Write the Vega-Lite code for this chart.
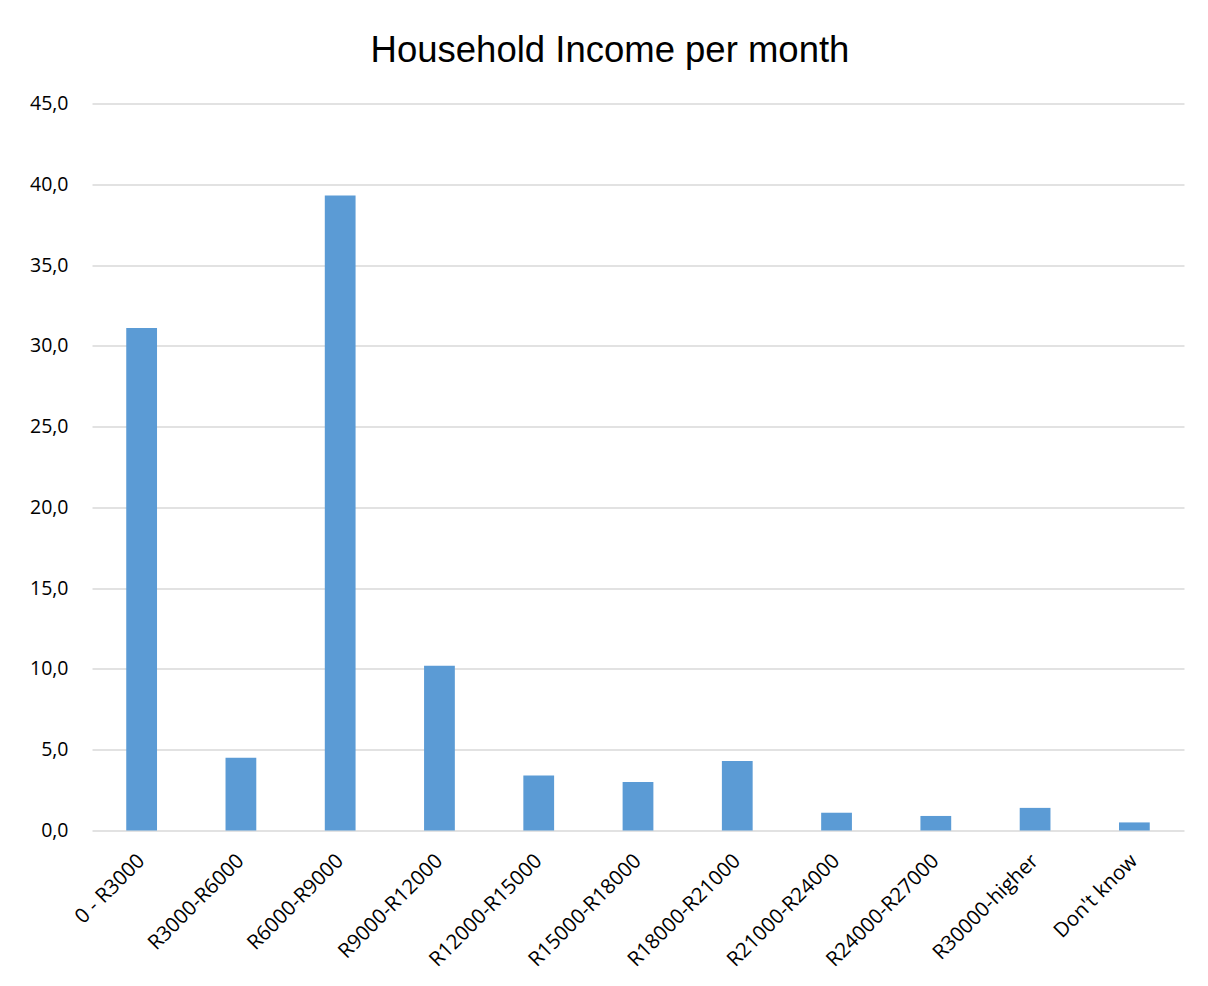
{
  "$schema": "https://vega.github.io/schema/vega-lite/v6.json",
  "width": 1092,
  "height": 727,
  "autosize": {"type": "none"},
  "padding": {"left": 92, "top": 103.5, "right": 24, "bottom": 155.5},
  "background": "white",
  "title": {
    "text": "Household Income per month",
    "font": "Liberation Sans",
    "fontSize": 36.5,
    "fontWeight": "normal",
    "color": "#000000",
    "anchor": "middle",
    "frame": "group",
    "dx": -28,
    "offset": 24
  },
  "data": {
    "values": [
      {"band": "0 - R3000", "pct": 31.1},
      {"band": "R3000-R6000", "pct": 4.5},
      {"band": "R6000-R9000", "pct": 39.3},
      {"band": "R9000-R12000", "pct": 10.2},
      {"band": "R12000-R15000", "pct": 3.4},
      {"band": "R15000-R18000", "pct": 3.0},
      {"band": "R18000-R21000", "pct": 4.3},
      {"band": "R21000-R24000", "pct": 1.1},
      {"band": "R24000-R27000", "pct": 0.9},
      {"band": "R30000-higher", "pct": 1.4},
      {"band": "Don't know", "pct": 0.5}
    ]
  },
  "mark": {"type": "bar", "color": "#5b9bd5"},
  "encoding": {
    "x": {
      "field": "band",
      "type": "nominal",
      "sort": null,
      "scale": {"paddingInner": 0.69, "paddingOuter": 0.345},
      "axis": {
        "title": null,
        "domain": false,
        "ticks": false,
        "labelAngle": -45,
        "labelAlign": "right",
        "labelBaseline": "middle",
        "labelPadding": 27,
        "labelFont": "Open Sans",
        "labelFontSize": 20.5,
        "labelColor": "#000000"
      }
    },
    "y": {
      "field": "pct",
      "type": "quantitative",
      "scale": {"domain": [0, 45], "nice": false},
      "axis": {
        "title": null,
        "values": [0, 5, 10, 15, 20, 25, 30, 35, 40, 45],
        "labelExpr": "replace(format(datum.value, '.1f'), '.', ',')",
        "domain": false,
        "ticks": false,
        "labelPadding": 24,
        "labelFont": "Open Sans",
        "labelFontSize": 19.5,
        "labelColor": "#000000",
        "grid": true,
        "gridColor": "#d9d9d9",
        "gridWidth": 1.5
      }
    }
  },
  "config": {"view": {"stroke": null}}
}
